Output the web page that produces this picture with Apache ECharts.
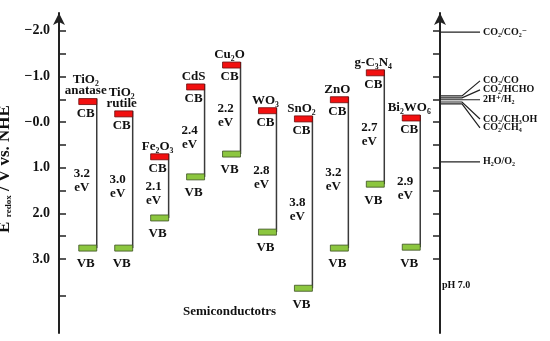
<!DOCTYPE html>
<html>
<head>
<meta charset="utf-8">
<script src="https://cdn.jsdelivr.net/npm/echarts@6/dist/echarts.min.js"></script>
<style>html,body{margin:0;padding:0;background:#fff}#c{width:550px;height:341px}</style>
</head>
<body>
<div id="c"></div>
<script>
// ---- data ----
const semiconductors = ['TiO₂\nanatase', 'TiO₂\nrutile', 'Fe₂O₃', 'CdS', 'Cu₂O', 'WO₃', 'SnO₂', 'ZnO', 'g-C₃N₄', 'Bi₂WO₆'];
const cbEdge = [-0.45, -0.18, 0.76, -0.77, -1.25, -0.25, -0.07, -0.49, -1.08, -0.09];
const vbEdge = [2.76, 2.76, 2.10, 1.20, 0.70, 2.41, 3.64, 2.76, 1.36, 2.74];
const bandGap = ['3.2', '3.0', '2.1', '2.4', '2.2', '2.8', '3.8', '3.2', '2.7', '2.9'];

const redoxCouples = ['CO₂/CO₂⁻', 'CO₂/CO', 'CO₂/HCHO', '2H⁺/H₂', 'CO₂/CH₃OH', 'CO₂/CH₄', 'H₂O/O₂'];
const redoxPotentials = [-1.97, -0.575, -0.53, -0.49, -0.44, -0.40, 0.87];

const leftTicks = [-2, -1.5, -1, -0.5, 0, 0.5, 1, 1.5, 2, 2.5, 3, 3.8];
const rightTicks = [-2, -1.5, -1, -0.5, 0, 0.5, 1, 1.5, 2, 2.5, 3];
const tickLabels = [-2, -1, 0, 1, 2, 3];

// ---- layout (not data) ----
const redoxLabelDy = [0, -15, -8, 0, 17, 24, 0];
const FONT = '"Liberation Serif", "DejaVu Serif", serif';

const chart = echarts.init(document.getElementById('c'), null, {renderer: 'canvas'});

const semiData = semiconductors.map((n, i) => [i, cbEdge[i], vbEdge[i]]);
const redoxData = redoxPotentials.map((v, i) => [0, v]);

function semiItem(params, api) {
  const idx = params.dataIndex;
  const i = api.value(0), cb = api.value(1), vb = api.value(2);
  const c = api.coord([i, cb]);
  const v = api.coord([i, vb]);
  const w = api.size([0.5, 0])[0];
  const h = 6;
  const x0 = c[0] - w / 2, x1 = c[0] + w / 2;
  const mid = (c[1] + v[1]) / 2;
  const font = 'bold 13px ' + FONT;
  return {
    type: 'group',
    children: [
      {type: 'line', shape: {x1: x1, y1: c[1] - h / 2, x2: x1, y2: v[1]},
        style: {stroke: '#3a3a3a', lineWidth: 1.5}},
      {type: 'rect', shape: {x: x0, y: c[1] - h / 2, width: w, height: h},
        style: {fill: '#f21010', stroke: '#6b0d0d', lineWidth: 0.8}},
      {type: 'rect', shape: {x: x0, y: v[1] - h / 2, width: w, height: h},
        style: {fill: '#8cc63f', stroke: '#3b4f22', lineWidth: 0.8}},
      {type: 'text', style: {text: semiconductors[idx], x: c[0] - 2, y: c[1] - 5,
        align: 'center', verticalAlign: 'bottom', font: font, lineHeight: 11, fill: '#111'}},
      {type: 'text', style: {text: 'CB', x: c[0] - 2, y: c[1] + 12,
        align: 'center', verticalAlign: 'middle', font: font, fill: '#111'}},
      {type: 'text', style: {text: bandGap[idx] + '\neV', x: c[0] - 6, y: mid + 6,
        align: 'center', verticalAlign: 'middle', font: font, lineHeight: 14, fill: '#111'}},
      {type: 'text', style: {text: 'VB', x: c[0] - 2, y: v[1] + 16,
        align: 'center', verticalAlign: 'middle', font: font, fill: '#111'}}
    ]
  };
}

function redoxItem(params, api) {
  const idx = params.dataIndex;
  const cs = params.coordSys;
  const xr = cs.x + cs.width;
  const y = api.coord([0, api.value(1)])[1];
  const dy = redoxLabelDy[idx];
  return {
    type: 'group',
    children: [
      {type: 'polyline', shape: {points: [[xr, y], [xr + 22, y], [xr + 40, y + dy]]},
        style: {stroke: '#222', lineWidth: 1.2, fill: null}},
      {type: 'text', style: {text: redoxCouples[idx], x: xr + 43, y: y + dy,
        align: 'left', verticalAlign: 'middle', font: 'bold 10px ' + FONT, fill: '#111'}}
    ]
  };
}

const yCommon = {
  type: 'value', inverse: true, min: -2.39, max: 4.62,
  splitLine: {show: false}
};

chart.setOption({
  animation: false,
  backgroundColor: '#fff',
  title: {
    text: 'Semiconductotrs', left: 183, top: 305, padding: 0,
    textStyle: {fontFamily: FONT, fontWeight: 'bold', fontSize: 13, color: '#111'}
  },
  graphic: [{
    type: 'text', left: 442, top: 280,
    style: {text: 'pH 7.0', font: 'bold 10px ' + FONT, fill: '#111'}
  }],
  grid: {left: 59, right: 110, top: 13, bottom: 8, containLabel: false, outerBoundsMode: 'none'},
  xAxis: {type: 'value', min: -0.8, max: 9.8, show: false},
  yAxis: [
    Object.assign({}, yCommon, {
      position: 'left',
      name: '{e|E}{sup|°}{sub|redox}{e| / V vs. NHE}',
      nameLocation: 'middle', nameGap: 37,
      nameTextStyle: {
        fontFamily: FONT, fontWeight: 'bold', fontSize: 17, color: '#111',
        padding: [0, 0, 0, 8],
        rich: {
          e: {fontFamily: FONT, fontWeight: 'bold', fontSize: 17, color: '#111'},
          sup: {fontFamily: FONT, fontWeight: 'bold', fontSize: 11, color: '#111', padding: [0, 0, 8, 0]},
          sub: {fontFamily: FONT, fontWeight: 'bold', fontSize: 9, color: '#111', padding: [9, 0, 0, 0]}
        }
      },
      axisLine: {show: true, onZero: false, lineStyle: {color: '#222', width: 2}, symbol: ['none', 'arrow'], symbolSize: [9, 12]},
      axisTick: {show: true, inside: true, length: 7, lineStyle: {color: '#222', width: 1.5}, customValues: leftTicks},
      axisLabel: {
        show: true, margin: 9, customValues: tickLabels,
        fontFamily: FONT, fontWeight: 'bold', fontSize: 14, color: '#111',
        formatter: v => (v <= 0 ? '−' : '') + Math.abs(v).toFixed(1)
      }
    }),
    Object.assign({}, yCommon, {
      position: 'right',
      axisLine: {show: true, onZero: false, lineStyle: {color: '#222', width: 2}, symbol: ['none', 'arrow'], symbolSize: [9, 12]},
      axisTick: {show: true, inside: true, length: 7, lineStyle: {color: '#222', width: 1.5}, customValues: rightTicks},
      axisLabel: {show: false}
    })
  ],
  series: [
    {type: 'custom', renderItem: semiItem, data: semiData, clip: false, xAxisIndex: 0, yAxisIndex: 0},
    {type: 'custom', renderItem: redoxItem, data: redoxData, clip: false, xAxisIndex: 0, yAxisIndex: 1}
  ]
});
</script>
</body>
</html>
